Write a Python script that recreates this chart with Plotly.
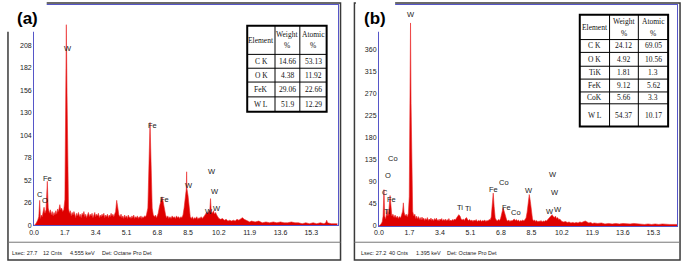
import plotly.graph_objects as go

# ---------------- data ----------------
x_tick_vals = [0.0, 1.7, 3.4, 5.1, 6.8, 8.5, 10.2, 11.9, 13.6, 15.3]
x_tick_text = ["0.0", "1.7", "3.4", "5.1", "6.8", "8.5", "10.2", "11.9", "13.6", "15.3"]
y_ticks_a = [0, 26, 52, 78, 104, 130, 156, 182, 208]
y_ticks_b = [0, 45, 90, 135, 180, 225, 270, 315, 360]

# Panel (a) spectrum, digitised (keV, counts)
energy_a = [0.00, 0.10, 0.20, 0.26, 0.31, 0.35, 0.40, 0.45, 0.50, 0.55, 0.60, 0.66, 0.73, 0.78, 0.85, 0.90,
            0.95, 1.00, 1.05, 1.10, 1.15, 1.20, 1.25, 1.30, 1.35, 1.42, 1.47, 1.52, 1.58, 1.64, 1.70, 1.74,
            1.78, 1.82, 1.86, 1.90, 1.95, 2.00, 2.05, 2.10, 2.15, 2.20, 2.25, 2.30, 2.35, 2.40, 2.45, 2.50,
            2.55, 2.60, 2.65, 2.70, 2.75, 2.80, 2.85, 2.90, 2.95, 3.00, 3.05, 3.10, 3.15, 3.20, 3.25, 3.30,
            3.35, 3.40, 3.45, 3.50, 3.55, 3.60, 3.65, 3.70, 3.75, 3.80, 3.85, 3.90, 3.95, 4.00, 4.05, 4.10,
            4.15, 4.20, 4.25, 4.30, 4.35, 4.40, 4.45, 4.50, 4.56, 4.62, 4.68, 4.75, 4.80, 4.85, 4.90, 4.95,
            5.00, 5.05, 5.10, 5.15, 5.20, 5.25, 5.30, 5.35, 5.40, 5.45, 5.50, 5.55, 5.60, 5.65, 5.70, 5.75,
            5.80, 5.85, 5.90, 5.95, 6.00, 6.05, 6.10, 6.15, 6.20, 6.28, 6.34, 6.40, 6.46, 6.52, 6.58, 6.65,
            6.70, 6.75, 6.80, 6.85, 6.92, 7.00, 7.06, 7.12, 7.20, 7.26, 7.32, 7.38, 7.44, 7.50, 7.56, 7.62,
            7.68, 7.74, 7.80, 7.86, 7.92, 7.98, 8.04, 8.10, 8.16, 8.22, 8.28, 8.34, 8.40, 8.42, 8.44, 8.50,
            8.56, 8.62, 8.68, 8.74, 8.80, 8.86, 8.92, 8.98, 9.04, 9.10, 9.16, 9.22, 9.28, 9.34, 9.40, 9.46,
            9.52, 9.58, 9.64, 9.70, 9.74, 9.78, 9.84, 9.90, 9.96, 10.02, 10.08, 10.14, 10.20, 10.30, 10.40,
            10.50, 10.60, 10.70, 10.80, 10.90, 11.00, 11.10, 11.20, 11.30, 11.40, 11.50, 11.60, 11.70, 11.80,
            11.90, 12.00, 12.20, 12.40, 12.60, 12.80, 13.00, 13.20, 13.40, 13.60, 13.80, 14.00, 14.20, 14.40,
            14.60, 14.80, 15.00, 15.20, 15.40, 15.60, 15.80, 16.00, 16.10, 16.15, 16.20, 16.40, 16.75]
counts_a = [0, 2, 6, 10, 29, 8, 12, 10, 16, 21, 14, 18, 51, 20, 14, 18,
            12, 16, 11, 15, 12, 17, 13, 19, 16, 24, 18, 20, 16, 18, 30, 120,
            232, 150, 40, 20, 14, 17, 11, 15, 12, 16, 13, 9, 14, 11, 15, 10,
            13, 9, 14, 12, 16, 10, 13, 9, 12, 15, 10, 13, 11, 14, 9, 12,
            15, 10, 13, 11, 14, 9, 12, 10, 13, 11, 14, 9, 12, 10, 13, 9,
            12, 10, 14, 11, 13, 10, 14, 16, 29, 18, 12, 10, 13, 9, 11, 8,
            12, 9, 11, 8, 12, 9, 10, 8, 11, 9, 12, 8, 10, 9, 11, 8,
            10, 9, 11, 8, 10, 9, 11, 10, 12, 20, 60, 119, 70, 20, 12, 10,
            12, 9, 11, 14, 22, 30, 33, 28, 16, 12, 9, 11, 8, 10, 8, 11,
            9, 10, 8, 11, 9, 10, 8, 10, 9, 12, 20, 36, 42, 62, 42, 34,
            18, 10, 8, 10, 7, 9, 8, 10, 7, 9, 8, 10, 8, 9, 11, 13,
            15, 14, 17, 18, 31, 16, 14, 17, 13, 15, 12, 10, 8, 7, 8,
            6, 7, 5, 6, 5, 6, 5, 7, 6, 8, 9, 7, 6, 5,
            4, 5, 4, 5, 3, 4, 3, 4, 3, 4, 3, 3, 4, 3,
            3, 2, 3, 2, 3, 2, 3, 2, 3, 6, 3, 2, 2]

# Panel (b) spectrum, digitised (keV, counts)
energy_b = [0.00, 0.10, 0.18, 0.23, 0.28, 0.32, 0.37, 0.42, 0.46, 0.50, 0.55, 0.62, 0.67, 0.72, 0.78, 0.84,
            0.90, 0.96, 1.02, 1.08, 1.14, 1.20, 1.26, 1.32, 1.36, 1.40, 1.46, 1.52, 1.58, 1.64, 1.69, 1.73,
            1.76, 1.79, 1.83, 1.88, 1.94, 2.00, 2.05, 2.10, 2.15, 2.20, 2.25, 2.30, 2.35, 2.40, 2.45, 2.50,
            2.55, 2.60, 2.65, 2.70, 2.75, 2.80, 2.85, 2.90, 2.95, 3.00, 3.05, 3.10, 3.15, 3.20, 3.25, 3.30,
            3.35, 3.40, 3.45, 3.50, 3.55, 3.60, 3.65, 3.70, 3.75, 3.80, 3.85, 3.90, 3.95, 4.00, 4.05, 4.10,
            4.15, 4.20, 4.25, 4.30, 4.38, 4.45, 4.52, 4.58, 4.64, 4.70, 4.76, 4.82, 4.88, 4.94, 5.00, 5.06,
            5.12, 5.18, 5.24, 5.30, 5.36, 5.42, 5.48, 5.54, 5.60, 5.66, 5.72, 5.78, 5.84, 5.90, 5.96, 6.02,
            6.08, 6.14, 6.20, 6.26, 6.32, 6.37, 6.42, 6.48, 6.54, 6.60, 6.66, 6.72, 6.78, 6.85, 6.92, 6.98,
            7.05, 7.12, 7.18, 7.24, 7.30, 7.36, 7.42, 7.48, 7.54, 7.60, 7.66, 7.72, 7.78, 7.84, 7.90, 7.96,
            8.02, 8.08, 8.14, 8.20, 8.26, 8.32, 8.38, 8.44, 8.50, 8.56, 8.62, 8.68, 8.74, 8.80, 8.86, 8.92,
            8.98, 9.04, 9.10, 9.16, 9.22, 9.28, 9.34, 9.40, 9.46, 9.52, 9.58, 9.65, 9.72, 9.78, 9.84, 9.90,
            9.96, 10.02, 10.08, 10.14, 10.20, 10.30, 10.40, 10.50, 10.60, 10.70, 10.80, 10.90, 11.00, 11.10,
            11.20, 11.30, 11.40, 11.50, 11.60, 11.70, 11.80, 11.90, 12.00, 12.20, 12.40, 12.60, 12.80, 13.00,
            13.20, 13.40, 13.60, 13.80, 14.00, 14.20, 14.40, 14.60, 14.80, 15.00, 15.20, 15.40, 15.60, 15.80,
            16.00, 16.20, 16.62]
counts_b = [0, 3, 8, 20, 74, 20, 14, 22, 33, 20, 30, 62, 30, 20, 24, 17,
            22, 16, 20, 15, 19, 16, 22, 30, 47, 28, 20, 24, 18, 26, 60, 250,
            414, 250, 80, 30, 20, 24, 15, 20, 14, 19, 13, 17, 12, 18, 13, 16,
            11, 15, 12, 17, 11, 14, 12, 16, 11, 14, 10, 15, 12, 16, 11, 13,
            10, 14, 12, 15, 10, 13, 11, 14, 10, 13, 11, 15, 10, 12, 10, 13,
            11, 14, 12, 16, 19, 23, 20, 14, 12, 14, 11, 15, 17, 13, 11, 13,
            10, 12, 9, 12, 10, 13, 9, 11, 10, 12, 9, 11, 10, 12, 9, 11,
            10, 13, 12, 18, 40, 67, 40, 16, 12, 10, 13, 11, 15, 24, 37, 30,
            18, 12, 10, 12, 9, 11, 10, 12, 14, 11, 13, 10, 12, 9, 11, 10,
            12, 10, 13, 16, 28, 50, 64, 50, 26, 14, 10, 12, 9, 11, 8, 10,
            9, 11, 8, 10, 9, 11, 10, 13, 16, 18, 21, 23, 19, 17, 20, 15,
            17, 13, 14, 10, 9, 8, 9, 7, 8, 6, 7, 6, 7, 6,
            8, 7, 9, 10, 8, 6, 7, 5, 6, 5, 6, 4, 5, 4,
            5, 4, 5, 4, 4, 5, 4, 4, 3, 4, 3, 4, 3, 4,
            3, 3, 3]

# Peak labels (text, keV, counts)
labels_a = [("C", 0.35, 36), ("O", 0.59, 29), ("Fe", 0.73, 54), ("W", 1.86, 205),
            ("Fe", 6.52, 116), ("Fe", 7.20, 30), ("W", 8.55, 46), ("W", 9.81, 62),
            ("W", 9.96, 39), ("W", 9.67, 16), ("W", 10.08, 20)]
labels_b = [("W", 1.80, 431), ("Co", 0.79, 137), ("O", 0.51, 102), ("C", 0.31, 69),
            ("Fe", 0.70, 54), ("Ti", 0.46, 30), ("Ti", 4.54, 37), ("Ti", 4.98, 35),
            ("Fe", 6.40, 74), ("Co", 6.95, 89), ("Fe", 7.10, 37), ("Co", 7.65, 27),
            ("W", 8.39, 72), ("W", 9.68, 104), ("W", 9.83, 69), ("W", 9.54, 30), ("W", 9.98, 34)]

# Composition tables
elements_a = ["C K", "O K", "FeK", "W L"]
weight_a = [14.66, 4.38, 29.06, 51.9]
atomic_a = [53.13, 11.92, 22.66, 12.29]
elements_b = ["C K", "O K", "TiK", "FeK", "CoK", "W L"]
weight_b = [24.12, 4.92, 1.81, 9.12, 5.66, 54.37]
atomic_b = [69.05, 10.56, 1.3, 5.62, 3.3, 10.17]

status_a = ["Lsec: 27.7", "12 Cnts", "4.555 keV", "Det: Octane Pro Det"]
status_b = ["Lsec: 27.2", "40 Cnts", "1.395 keV", "Det: Octane Pro Det"]

# ---------------- layout helpers ----------------
W, H = 685, 265
def px(x):
    return x / W
def py(y):
    return 1 - y / H

SERIF = "Liberation Serif, Times New Roman, serif"
SANS = "Liberation Sans, Arial, sans-serif"
RED = "rgb(222,0,0)"
BLUE = "#5656c8"

fig = go.Figure()
fig.add_trace(go.Scatter(x=energy_a, y=counts_a, mode="lines", fill="tozeroy",
                         line=dict(color="rgb(235,40,40)", width=0.6), fillcolor=RED,
                         xaxis="x", yaxis="y", hoverinfo="skip", showlegend=False))
fig.add_trace(go.Scatter(x=energy_b, y=counts_b, mode="lines", fill="tozeroy",
                         line=dict(color="rgb(235,40,40)", width=0.6), fillcolor=RED,
                         xaxis="x2", yaxis="y2", hoverinfo="skip", showlegend=False))

tickfont = dict(family=SANS, size=7, color="#222")
def xaxis(dom, rng, anchor):
    return dict(domain=dom, range=rng, anchor=anchor, tickvals=x_tick_vals, ticktext=x_tick_text,
                showline=True, mirror=True, linecolor=BLUE, linewidth=1, showgrid=False,
                zeroline=False, ticks="", tickfont=tickfont, fixedrange=True)
def yaxis(dom, rng, anchor, tv):
    return dict(domain=dom, range=rng, anchor=anchor, tickvals=tv, ticktext=[str(v) for v in tv],
                showline=True, mirror=True, linecolor=BLUE, linewidth=1, showgrid=False,
                zeroline=False, ticks="", tickfont=tickfont, fixedrange=True)

# pixel geometry of the two frames
ax_a = dict(left=29.3, right=335, bottom=228, top=5)
ax_b = dict(left=376.7, right=677, bottom=228.5, top=5)
kev_px_a, cnt_px_a = 18.25, (228 - 46) / 208
kev_px_b, cnt_px_b = 18.07, (228.5 - 50) / 360

fig.update_layout(
    width=W, height=H, margin=dict(l=0, r=0, t=0, b=0), autosize=False,
    paper_bgcolor="white", plot_bgcolor="white",
    xaxis=xaxis([px(ax_a["left"]), px(ax_a["right"])],
                [0, (ax_a["right"] - ax_a["left"]) / kev_px_a], "y"),
    yaxis=yaxis([py(ax_a["bottom"]), py(ax_a["top"])],
                [0, (ax_a["bottom"] - ax_a["top"]) / cnt_px_a], "x", y_ticks_a),
    xaxis2=xaxis([px(ax_b["left"]), px(ax_b["right"])],
                 [0, (ax_b["right"] - ax_b["left"]) / kev_px_b], "y2"),
    yaxis2=yaxis([py(ax_b["bottom"]), py(ax_b["top"])],
                 [0, (ax_b["bottom"] - ax_b["top"]) / cnt_px_b], "x2", y_ticks_b),
)

shapes = []
annotations = []

def rect(x0, y0, x1, y1, color="#333", width=1.5, fill=None, layer="above"):
    d = dict(type="rect", xref="paper", yref="paper", x0=px(x0), x1=px(x1), y0=py(y1), y1=py(y0),
             line=dict(color=color, width=width), layer=layer)
    if fill:
        d["fillcolor"] = fill
    shapes.append(d)

def hline(x0, x1, y, color="#333", width=1):
    shapes.append(dict(type="line", xref="paper", yref="paper", x0=px(x0), x1=px(x1), y0=py(y), y1=py(y),
                       line=dict(color=color, width=width), layer="above"))

def vline(x, y0, y1, color="#333", width=1):
    shapes.append(dict(type="line", xref="paper", yref="paper", x0=px(x), x1=px(x), y0=py(y0), y1=py(y1),
                       line=dict(color=color, width=width), layer="above"))

def text(x, y, s, size=7, family=SERIF, color="#111", xanchor="center", bold=False):
    annotations.append(dict(xref="paper", yref="paper", x=px(x), y=py(y), text=(f"<b>{s}</b>" if bold else s),
                            showarrow=False, xanchor=xanchor, yanchor="middle",
                            font=dict(size=size, family=family, color=color)))

# outer panel borders and status bars
rect(3, 3, 338, 263, color="#3a3a3a", width=1.5)
rect(352, 3, 680, 263, color="#3a3a3a", width=1.5)
hline(3, 338, 245, color="#777", width=1)
hline(352, 680, 245, color="#777", width=1)

# white label boxes covering the top-left corner
rect(-1, -1, 42, 32, color="white", width=0, fill="white")
rect(353.5, -1, 393, 32, color="white", width=0, fill="white")
text(22.5, 19, "(a)", size=17, family=SANS, color="black", bold=True)
text(373, 19, "(b)", size=17, family=SANS, color="black", bold=True)

# status texts
for s, x in zip(status_a, [5, 36, 63, 96]):
    text(x, 256, s, size=5.5, family=SANS, color="#222", xanchor="left")
for s, x in zip(status_b, [357, 385, 412, 443]):
    text(x, 256, s, size=5.5, family=SANS, color="#222", xanchor="left")

# tables
def table(cols, rows, header, body):
    x0, x1 = cols[0], cols[-1]
    y0, y1 = rows[0], rows[-1]
    shapes.append(dict(type="rect", xref="paper", yref="paper", x0=px(x0), x1=px(x1), y0=py(y1), y1=py(y0),
                       line=dict(color="black", width=2), fillcolor="white", layer="above"))
    for c in cols[1:-1]:
        vline(c, y0, y1, color="black", width=1)
    for r in rows[1:-1]:
        hline(x0, x1, r, color="black", width=1)
    hy0, hy1 = rows[0], rows[1]
    hm = (hy0 + hy1) / 2
    text((cols[0] + cols[1]) / 2, hm, header[0], size=7.5)
    for i, h in enumerate(header[1:], start=1):
        cx = (cols[i] + cols[i + 1]) / 2
        text(cx, hm - 6, h, size=7.5)
        text(cx, hm + 6, "%", size=7.5)
    for r, row in enumerate(body):
        cy = (rows[r + 1] + rows[r + 2]) / 2
        for i, v in enumerate(row):
            cx = (cols[i] + cols[i + 1]) / 2
            text(cx, cy, str(v), size=7.5)

table([244, 272, 297, 324], [26, 55, 69, 83, 98, 113],
      ["Element", "Weight", "Atomic"], list(zip(elements_a, weight_a, atomic_a)))
table([579, 609, 638, 668], [15, 40, 53, 67, 80, 93, 105, 128],
      ["Element", "Weight", "Atomic"], list(zip(elements_b, weight_b, atomic_b)))

# peak labels
for s, e, c in labels_a:
    annotations.append(dict(xref="x", yref="y", x=e, y=c, text=s, showarrow=False,
                            font=dict(size=7.5, family=SANS, color="#222")))
for s, e, c in labels_b:
    annotations.append(dict(xref="x2", yref="y2", x=e, y=c, text=s, showarrow=False,
                            font=dict(size=7.5, family=SANS, color="#222")))

fig.update_layout(shapes=shapes, annotations=annotations)
fig.write_html("out.html", config={"displayModeBar": False},
               post_script="document.body.style.margin='0';")
